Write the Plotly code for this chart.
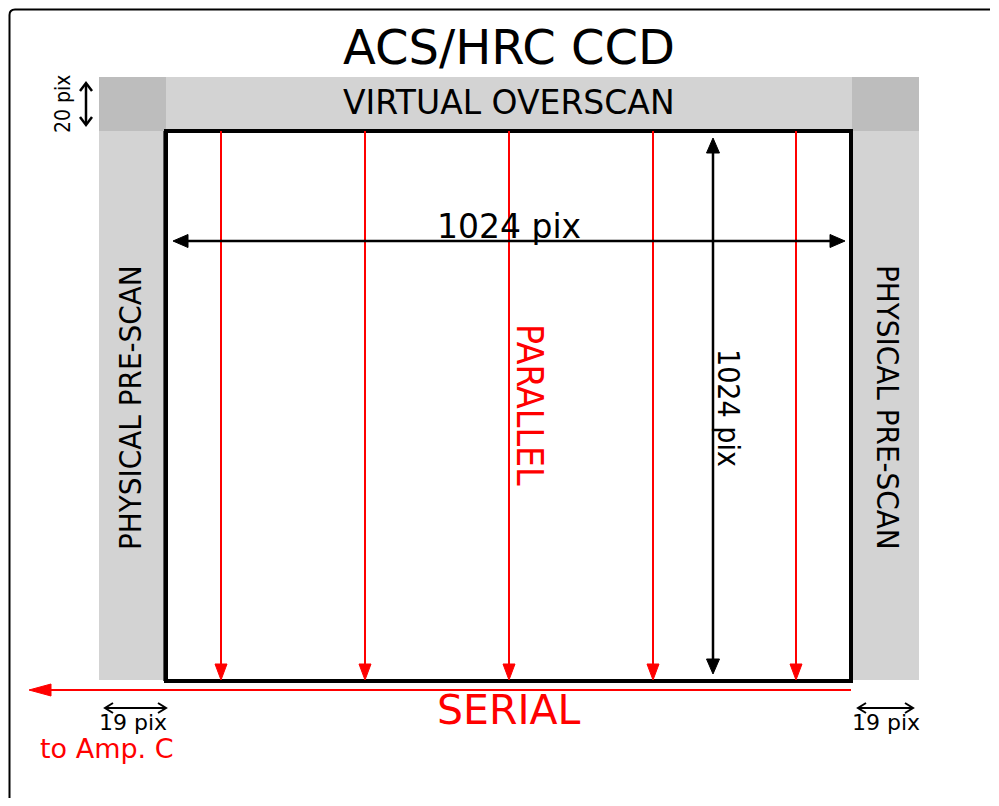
import plotly.graph_objects as go

# ---- content (labels / values) ----
title_text = "ACS/HRC CCD"
detector_size_pix = [1024, 1024]          # columns, rows
prescan_pix = 19
overscan_pix = 20
region_labels = ["VIRTUAL OVERSCAN", "PHYSICAL PRE-SCAN", "PHYSICAL PRE-SCAN"]
transfer_labels = ["PARALLEL", "SERIAL"]
amp_label = "to Amp. C"

# ---- diagram geometry (page pixel coordinates) ----
W, H = 999, 806
PAGE_MARGIN = 8                           # default body margin of the html page
ccd_box = [166, 131, 851, 681]            # x0, y0, x1, y1 of image area
band_top = [99, 77, 919, 131]
prescan_left = [99, 131, 166, 680]
prescan_right = [852, 131, 919, 680]
corner_boxes = [[99, 77, 166, 131], [852, 77, 919, 131]]
parallel_cols = [221, 365, 509, 653, 796]
serial_y = 690

LIGHT = "#d3d3d3"
DARK = "#bdbdbd"
RED = "#ff0000"
BLACK = "#000000"

shapes = []


def rect(b, color):
    shapes.append(dict(type="rect", xref="x", yref="y", x0=b[0], y0=b[1], x1=b[2], y1=b[3],
                       fillcolor=color, line=dict(width=0), layer="below"))


def line(x0, y0, x1, y1, color, w):
    shapes.append(dict(type="line", xref="x", yref="y", x0=x0, y0=y0, x1=x1, y1=y1,
                       line=dict(color=color, width=w)))


def filled_head(tx, ty, dx, dy, length, half, color):
    bx, by = tx - dx * length, ty - dy * length
    px, py = -dy, dx
    path = (f"M {tx},{ty} L {bx + px * half},{by + py * half} "
            f"L {bx - px * half},{by - py * half} Z")
    shapes.append(dict(type="path", xref="x", yref="y", path=path, fillcolor=color,
                       line=dict(color=color, width=1)))


def open_head(tx, ty, dx, dy, length, half, color, w):
    bx, by = tx - dx * length, ty - dy * length
    px, py = -dy, dx
    path = (f"M {bx + px * half},{by + py * half} L {tx},{ty} "
            f"L {bx - px * half},{by - py * half}")
    shapes.append(dict(type="path", xref="x", yref="y", path=path,
                       line=dict(color=color, width=w)))


# gray regions
rect(band_top, LIGHT)
rect(prescan_left, LIGHT)
rect(prescan_right, LIGHT)
for cb in corner_boxes:
    rect(cb, DARK)

# image area
shapes.append(dict(type="rect", xref="x", yref="y", x0=ccd_box[0] - 3, y0=ccd_box[1],
                   x1=ccd_box[0], y1=ccd_box[3], fillcolor="#555555", line=dict(width=0)))
shapes.append(dict(type="rect", xref="x", yref="y", x0=ccd_box[0], y0=ccd_box[1],
                   x1=ccd_box[2], y1=ccd_box[3], fillcolor="white",
                   line=dict(color=BLACK, width=4)))

# parallel transfer arrows
for cx in parallel_cols:
    line(cx, ccd_box[1], cx, ccd_box[3] - 14, RED, 2)
    filled_head(cx, ccd_box[3] - 1, 0, 1, 16, 6, RED)

# serial arrow
line(ccd_box[2], serial_y, 48, serial_y, RED, 2)
filled_head(29, serial_y, -1, 0, 22, 6, RED)

# 1024 horizontal dimension arrow
hy = 241
line(186, hy, 832, hy, BLACK, 2.5)
filled_head(173, hy, -1, 0, 15, 6.5, BLACK)
filled_head(845, hy, 1, 0, 15, 6.5, BLACK)

# 1024 vertical dimension arrow
vx = 713
line(vx, 151, vx, 661, BLACK, 2.5)
filled_head(vx, 138, 0, -1, 15, 6.5, BLACK)
filled_head(vx, 674, 0, 1, 15, 6.5, BLACK)

# 19 pix arrows (open heads)
for (x0, x1) in [(105, 166), (858, 913)]:
    line(x0 + 1, 708, x1 - 1, 708, BLACK, 2)
    open_head(x0, 708, -1, 0, 8, 5, BLACK, 2)
    open_head(x1, 708, 1, 0, 8, 5, BLACK, 2)

# 20 pix arrow
line(86, 84, 86, 124, BLACK, 2.5)
open_head(86, 83, 0, -1, 8, 6, BLACK, 2.5)
open_head(86, 125, 0, 1, 8, 6, BLACK, 2.5)

# outer frame (left + top with rounded corner)
line(9.5, 15, 9.5, 806, BLACK, 2)
line(15, 9.5, 990, 9.5, BLACK, 2)
shapes.append(dict(type="path", xref="x", yref="y",
                   path="M 9.5,15 Q 9.5,9.5 15,9.5",
                   line=dict(color=BLACK, width=2)))

FONT = "DejaVu Sans"
CFONT = "DejaVu Sans Condensed, DejaVu Sans"

annotations = []


def text(x, y, t, size, color=BLACK, angle=0, family=FONT):
    annotations.append(dict(x=x, y=y, xref="x", yref="y", text=t, showarrow=False,
                            textangle=angle, xanchor="center", yanchor="middle",
                            font=dict(family=family, size=size, color=color)))


text(509, 47, title_text, 48)
text(509, 102, region_labels[0], 33)
text(509, 226, f"{detector_size_pix[0]} pix", 33)
text(130, 408, region_labels[1], 31, angle=-90, family=CFONT)
text(888, 407, region_labels[2], 31, angle=90, family=CFONT)
text(530, 405, transfer_labels[0], 37, color=RED, angle=90, family=CFONT)
text(729, 408, f"{detector_size_pix[1]} pix", 30, angle=90, family=CFONT)
text(509, 710, transfer_labels[1], 41, color=RED)
text(133, 722, f"{prescan_pix} pix", 22)
text(886, 722, f"{prescan_pix} pix", 22)
text(107, 748, amp_label, 27, color=RED)
text(63, 104, f"{overscan_pix} pix", 21, angle=-90, family=CFONT)

M = PAGE_MARGIN
fig = go.Figure()
fig.update_layout(
    width=W - 2 * M, height=H - 2 * M,
    margin=dict(l=0, r=0, t=0, b=0),
    paper_bgcolor="white", plot_bgcolor="white",
    xaxis=dict(range=[M, W - M], visible=False, fixedrange=True),
    yaxis=dict(range=[H - M, M], visible=False, fixedrange=True),
    shapes=shapes, annotations=annotations, showlegend=False,
)
fig.write_html("out.html")
